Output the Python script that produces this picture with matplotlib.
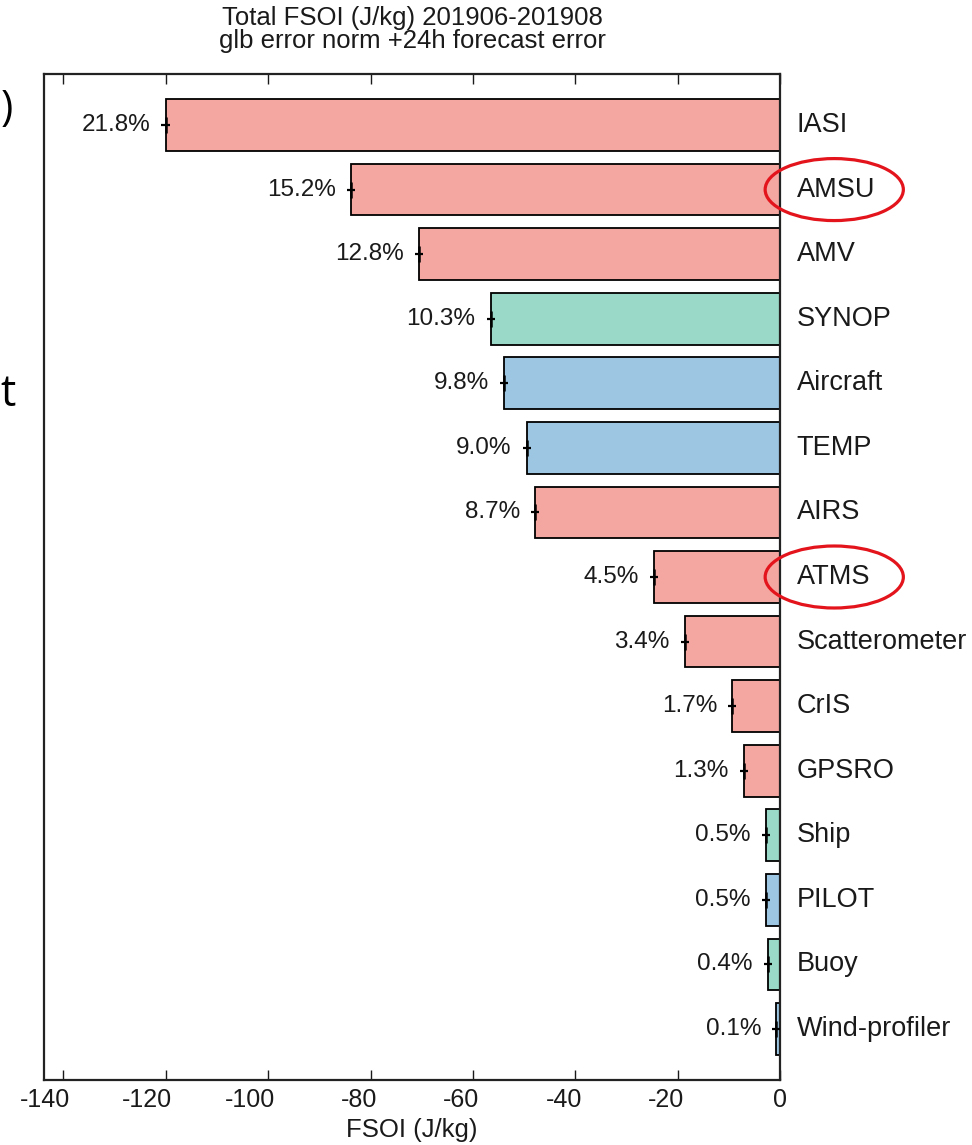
import matplotlib.pyplot as plt
from matplotlib.patches import Ellipse
from matplotlib.transforms import ScaledTranslation

plt.rcParams['font.family'] = ['Liberation Sans', 'DejaVu Sans']
plt.rcParams['axes.unicode_minus'] = False

# observation types, top to bottom
obs_types = ['IASI', 'AMSU', 'AMV', 'SYNOP', 'Aircraft', 'TEMP', 'AIRS', 'ATMS',
             'Scatterometer', 'CrIS', 'GPSRO', 'Ship', 'PILOT', 'Buoy', 'Wind-profiler']
fsoi_values = [-120.0, -83.8, -70.5, -56.5, -53.9, -49.5, -47.8, -24.6,
               -18.6, -9.3, -7.1, -2.8, -2.8, -2.3, -0.7]
fsoi_errors = [0.9, 0.8, 0.8, 0.8, 0.8, 0.8, 0.8, 0.8, 0.8, 0.8, 0.8, 0.8, 0.8, 0.8, 0.8]
percentages = [21.8, 15.2, 12.8, 10.3, 9.8, 9.0, 8.7, 4.5, 3.4, 1.7, 1.3, 0.5, 0.5, 0.4, 0.1]
obs_groups = ['sat', 'sat', 'sat', 'surface', 'upper', 'upper', 'sat', 'sat',
              'sat', 'sat', 'sat', 'surface', 'upper', 'surface', 'upper']
highlighted = ['AMSU', 'ATMS']
tick_values = [-140, -120, -100, -80, -60, -40, -20, 0]

group_colors = {'sat': '#f4a6a0', 'surface': '#9ad9c7', 'upper': '#9cc6e1'}
text_color = '#1a1a1a'

fig = plt.figure(figsize=(9.72, 11.45), dpi=100)
ax = fig.add_axes([44 / 972, 1 - 1080 / 1145, (780 - 44) / 972, (1080 - 74) / 1145])

positions = list(range(len(obs_types)))
ax.barh(positions, fsoi_values, height=0.8,
        color=[group_colors[g] for g in obs_groups],
        edgecolor='black', linewidth=1.3, zorder=2)
ax.errorbar(fsoi_values, positions, xerr=fsoi_errors, fmt='|', color='black',
            markersize=12, mew=1.8, elinewidth=1.6, zorder=3)

for pos, val, pct, name in zip(positions, fsoi_values, percentages, obs_types):
    ax.annotate(f'{pct:.1f}%', xy=(val, pos), xytext=(-11, 0), textcoords='offset points',
                ha='right', va='center', fontsize=17.5, color=text_color)
    ax.annotate(name, xy=(1, pos), xycoords=('axes fraction', 'data'),
                xytext=(12, 0), textcoords='offset points',
                ha='left', va='center', fontsize=19.5, color=text_color,
                annotation_clip=False)

# red circles round the highlighted labels
for name in highlighted:
    pos = obs_types.index(name)
    ax.add_patch(Ellipse((10.6, pos), width=27.0, height=0.96, fill=False,
                         edgecolor='#e3141c', linewidth=2.3, clip_on=False, zorder=5))

ax.set_xlim(-143.8, 0)
ax.set_ylim(len(obs_types) - 1 + 0.79, -0.79)
ax.set_xticks(tick_values, labels=[str(t) for t in tick_values])
ax.set_yticks([])
ax.tick_params(axis='x', direction='in', top=True, bottom=True, length=7, width=1,
               labelsize=18, pad=6, colors=text_color)
for lab in ax.get_xticklabels():
    lab.set_ha('right')
    lab.set_transform(lab.get_transform() + ScaledTranslation(6.5 / 100, 0, fig.dpi_scale_trans))

for spine in ax.spines.values():
    spine.set_linewidth(1.6)
    spine.set_color('#222222')

ax.set_xlabel('FSOI (J/kg)', fontsize=18.5, labelpad=4, color=text_color)

fig.text(412 / 972, 1 - 25 / 1145, 'Total FSOI (J/kg) 201906-201908',
         ha='center', va='baseline', fontsize=18.5, color=text_color)
fig.text(412 / 972, 1 - 48 / 1145, 'glb error norm +24h forecast error',
         ha='center', va='baseline', fontsize=18.5, color=text_color)

# bits of slide text at the left edge
fig.text(0.5 / 972, 1 - 120 / 1145, ')', ha='left', va='baseline', fontsize=30,
         family='Open Sans', color='black')
fig.text(0.5 / 972, 1 - 406 / 1145, 't', ha='left', va='baseline', fontsize=31,
         family='Open Sans', color='black')

fig.savefig('out.png', dpi=100)
